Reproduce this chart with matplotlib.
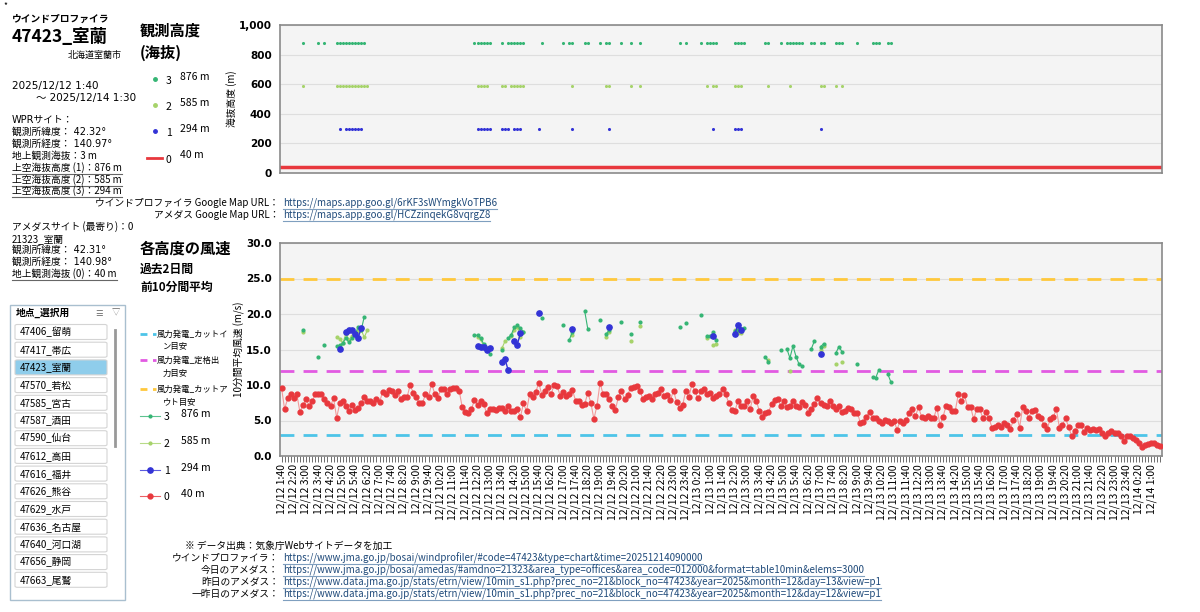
import numpy as np
import pandas as pd
import matplotlib
matplotlib.use("Agg")
import matplotlib.pyplot as plt
from matplotlib.lines import Line2D
from matplotlib.patches import Rectangle, FancyBboxPatch
from matplotlib.ticker import FuncFormatter
from matplotlib.transforms import IdentityTransform

plt.rcParams["font.family"] = ["Noto Sans CJK JP", "DejaVu Sans"]
LATIN_FIRST = ["DejaVu Sans", "Noto Sans CJK JP"]

# ---- data ----
start_time = "2025-12-12 01:40"
n_steps = 288
ground_alt = 40
alt_heights = {"3": 876, "2": 585, "1": 294}

# 40 m (AMeDAS) 10-min mean wind speed, m/s
wind_40m = [
    9.6, 6.6, 8.1, 8.7, 8.1, 8.7, 6.2, 7.2, 8.0, 7.1,
    7.7, 8.7, 8.7, 8.7, 8.0, 7.5, 7.1, 8.1, 5.4, 7.4,
    7.7, 7.0, 6.3, 7.2, 6.5, 6.7, 7.4, 8.3, 7.8, 7.8,
    7.5, 8.0, 7.6, 9.0, 8.7, 9.3, 9.1, 8.6, 9.1, 8.0,
    8.3, 8.3, 10.0, 8.9, 8.3, 7.4, 7.4, 8.7, 8.3, 10.2,
    8.8, 8.1, 9.4, 9.4, 8.8, 9.4, 9.6, 9.6, 9.2, 6.9,
    6.2, 6.0, 6.6, 7.9, 7.2, 7.7, 7.3, 6.0, 6.6, 6.6,
    6.5, 6.8, 6.8, 6.3, 7.0, 6.3, 6.3, 6.6, 5.5, 7.4,
    6.3, 8.7, 8.3, 9.0, 10.3, 8.6, 9.1, 9.7, 8.7, 10.0,
    9.8, 8.5,
    9.0, 8.4, 8.7, 9.3, 7.8, 7.8, 7.2, 7.3, 8.9, 7.5,
    5.2, 7.1, 10.3, 8.7, 8.7, 8.0, 7.1, 6.5, 8.3, 9.2,
    8.0, 8.6, 9.6, 9.7, 9.9, 9.2, 8.0, 8.3, 8.4, 8.0,
    8.8, 8.9, 9.5, 8.4, 8.6, 7.9, 9.2, 7.6, 6.7, 7.2,
    9.2, 8.3, 10.1, 9.1, 8.1, 9.1, 9.4, 8.7, 8.9, 8.1,
    8.4, 8.8, 9.4, 8.7, 7.5, 6.5, 6.3, 7.7, 7.0,
    7.0, 7.8, 6.6, 8.4, 7.8, 6.4, 5.5, 6.0, 6.2, 7.3,
    7.9, 8.0, 7.1, 7.8, 6.9, 7.1, 7.7, 7.0, 6.9, 7.6,
    7.2, 6.0, 6.6, 7.3, 8.1, 7.4, 7.2, 7.1, 7.8, 7.1,
    6.6, 7.0, 6.2, 6.3, 6.8, 6.6, 6.1, 6.1, 4.7, 4.8,
    5.5, 6.2,
    5.4, 5.4, 5.0, 4.7, 5.1, 5.0, 4.7, 4.9, 3.7, 5.0,
    4.7, 5.1, 6.0, 6.6, 5.6, 6.9, 5.5, 5.3, 5.7, 5.3,
    5.4, 6.8, 4.4, 5.5, 7.1, 6.9, 6.3, 6.4, 8.7, 7.8,
    8.6, 6.9, 6.9, 5.2, 6.6, 6.6, 5.3, 6.2, 5.3, 4.0,
    4.1, 4.3, 4.1, 4.6, 4.3, 3.8, 5.1, 5.9, 4.0, 6.9,
    6.3, 5.4, 6.4, 6.5, 5.7, 5.3, 4.3, 3.8, 5.2, 5.5,
    6.6, 4.0, 4.4, 5.3, 4.1, 2.8, 3.5, 4.4, 4.3, 3.4,
    4.0, 3.6, 3.8, 3.7, 3.8, 3.2, 2.8, 3.2, 3.5, 3.2,
    3.3, 2.8, 2.1, 2.8, 2.8, 2.5, 2.2, 1.9, 1.3, 1.6,
    1.7, 1.9, 1.9, 1.6, 1.4,
]

# wind profiler levels: observed step index and speed
h876_idx = [7, 12, 14, 18, 19, 20, 21, 22, 23, 24, 25, 26, 27, 63, 64, 65, 66, 67, 68,
            72, 74, 75, 76, 77, 78, 79, 85, 92, 94, 95, 99, 100, 104, 106, 107, 111, 114,
            117, 130, 132, 137, 139, 140, 141, 142, 148, 149, 150, 151, 158, 159, 163,
            165, 166, 167, 168, 169, 170, 173, 174, 176, 177, 181, 182, 183, 188,
            193, 194, 195, 198, 199]
h876_val = [17.8, 13.9, 15.6, 15.5, 15.6, 15.9, 16.6, 16.0, 16.6, 17.0, 18.2, 17.7, 19.6,
            17.0, 17.0, 16.6, 15.8, 15.0, 14.4, 14.9, 16.6, 17.1, 18.1, 18.4, 18.0, 17.5,
            19.4, 18.5, 16.4, 17.5, 20.4, 17.9, 19.1, 17.2, 17.7, 18.9, 17.2, 18.9, 18.2,
            18.7, 19.9, 16.9, 16.9, 17.4, 16.3, 17.6, 17.8, 17.9, 18.0, 13.9, 13.3, 14.9,
            15.1, 13.8, 15.5, 14.0, 12.9, 12.7, 15.1, 16.2, 15.4, 15.8, 14.5, 15.4, 14.7,
            12.9, 11.1, 11.0, 12.1, 11.5, 10.4]

h585_idx = [7, 18, 19, 20, 21, 22, 23, 24, 25, 26, 27, 28, 64, 65, 66, 67, 72, 73,
            75, 76, 77, 78, 79, 95, 106, 107, 114, 117, 139, 141, 142, 148, 149, 150,
            159, 166, 176, 177, 181, 183]
h585_val = [17.4, 16.7, 16.5, 15.9, 17.2, 16.4, 16.9, 17.3, 17.6, 17.8, 16.7, 17.7,
            16.8, 16.5, 15.4, 15.2, 15.2, 16.2, 16.9, 17.7, 18.2, 16.7, 17.4, 17.0,
            16.8, 17.5, 16.2, 18.3, 16.6, 15.6, 15.8, 17.8, 17.3, 17.3, 13.5, 12.0,
            15.0, 15.5, 12.9, 13.3]

h294_idx = [19, 21, 22, 23, 24, 25, 26, 64, 65, 66, 67, 68, 72, 73, 74, 76, 77, 78,
            84, 95, 107, 141, 148, 149, 150, 176]
h294_val = [15.1, 17.5, 17.8, 17.7, 17.2, 16.6, 18.0, 15.5, 15.4, 15.4, 14.9, 15.2,
            13.3, 13.6, 12.1, 16.2, 15.7, 17.3, 20.2, 17.9, 18.2, 16.9, 17.2, 18.4,
            17.8, 14.3]

cut_in, rated, cut_out = 3.0, 12.0, 25.0

stations = ["47406_留萌", "47417_帯広", "47423_室蘭", "47570_若松", "47585_宮古",
            "47587_酒田", "47590_仙台", "47612_高田", "47616_福井", "47626_熊谷",
            "47629_水戸", "47636_名古屋", "47640_河口湖", "47656_静岡", "47663_尾鷲"]
selected_station = "47423_室蘭"

# ---- helpers ----
W, H = 1200, 612
fig = plt.figure(figsize=(12, 6.12), dpi=100)
underlined = []


def fx(x):
    return x / W


def fy(y):
    return 1 - y / H


def txt(x, y, s, size=7, weight="normal", ha="left", color="black", ul=None, **kw):
    t = fig.text(fx(x), fy(y), s, fontsize=size, fontweight=weight, ha=ha,
                 va="center", color=color, **kw)
    if ul:
        underlined.append((t, ul))
    return t


def series(idx, val):
    s = np.full(n_steps, np.nan)
    s[idx] = val
    return s


times = pd.date_range(start_time, periods=n_steps, freq="10min")
tick_labels = [f"{t.month}/{t.day} {t.hour}:{t.minute:02d}" for t in times]
x = np.arange(n_steps)
s876 = series(h876_idx, h876_val)
s585 = series(h585_idx, h585_val)
s294 = series(h294_idx, h294_val)

c876, c585, c294, c40 = "#35b574", "#a6d36a", "#3333d6", "#e8383d"
bg = "#f4f4f4"

# ---- top chart: observed heights ----
ax1 = fig.add_axes([fx(280), fy(173), 882 / W, 148 / H])
ax1.set_facecolor(bg)
for s, h, c in [(s876, alt_heights["3"], c876), (s585, alt_heights["2"], c585),
                (s294, alt_heights["1"], c294)]:
    ok = ~np.isnan(s)
    ax1.scatter(x[ok], np.full(ok.sum(), h), s=5, color=c, zorder=3, linewidths=0)
ax1.axhline(ground_alt, color=c40, lw=2.5, zorder=2)
ax1.set_xlim(-0.5, n_steps - 0.5)
ax1.set_ylim(0, 1000)
ax1.set_yticks(range(0, 1001, 200))
ax1.yaxis.set_major_formatter(FuncFormatter(lambda v, p: f"{int(v):,}"))
ax1.set_xticks([])
ax1.grid(axis="y", color="#dedede", lw=0.8)
ax1.set_axisbelow(True)
ax1.set_ylabel("海抜高度 (m)", fontsize=7, labelpad=1)

# ---- bottom chart: wind speed ----
ax2 = fig.add_axes([fx(280), fy(456), 882 / W, 213 / H])
ax2.set_facecolor(bg)
dash = (0, (5, 3.3))
ax2.axhline(cut_in, color="#4dc4e8", lw=2, ls=dash, zorder=2)
ax2.axhline(rated, color="#e25ae2", lw=2, ls=dash, zorder=2)
ax2.axhline(cut_out, color="#ffc83c", lw=2, ls=dash, zorder=2)
ax2.plot(x, wind_40m, color="#f29a9a", lw=0.8, marker="o", ms=3.5,
         mfc=c40, mec=c40, zorder=3)
ax2.plot(x, s585, color=c585, lw=0.8, marker="o", ms=2, mfc=c585, mec=c585, zorder=4)
ax2.plot(x, s876, color=c876, lw=0.8, marker="o", ms=2, mfc=c876, mec=c876, zorder=5)
ax2.plot(x, s294, color=c294, lw=1, marker="o", ms=3.8, mfc=c294, mec=c294, zorder=6)
ax2.set_xlim(-0.5, n_steps - 0.5)
ax2.set_ylim(0, 30)
ax2.set_yticks(range(0, 31, 5))
ax2.yaxis.set_major_formatter(FuncFormatter(lambda v, p: f"{v:.1f}"))
ax2.set_xticks(x[::4])
ax2.set_xticklabels(tick_labels[::4], rotation=90, fontsize=7.5)
ax2.set_xticks(x, minor=True)
ax2.tick_params(axis="x", which="both", length=4, width=0.6, color="#555555", pad=2)
ax2.grid(axis="y", color="#dedede", lw=0.8)
ax2.set_axisbelow(True)
ax2.set_ylabel("10分間平均風速 (m/s)", fontsize=7, labelpad=1)

for ax in (ax1, ax2):
    for sp in ax.spines.values():
        sp.set_color("#8a8a8a")
        sp.set_linewidth(1.2)
    ax.tick_params(axis="y", length=0, labelsize=7.5, pad=6)
    for lbl in ax.get_yticklabels():
        lbl.set_fontweight("bold")
        lbl.set_family("DejaVu Sans")

# ---- left info panel ----
txt(3, 6, "*", size=6)
txt(12, 19, "ウインドプロファイラ", size=7, weight="bold")
txt(12, 37, "47423_室蘭", size=12.5, weight="bold")
txt(122, 55, "北海道室蘭市", size=6.5, ha="right")
txt(12, 86, "2025/12/12 1:40", size=7.5, family=LATIN_FIRST)
txt(36, 98, "～ 2025/12/14 1:30", size=7.5, family=LATIN_FIRST)
txt(12, 120, "WPRサイト：", size=7, family=LATIN_FIRST)
txt(12, 132, "観測所緯度： 42.32°", size=7, family=LATIN_FIRST)
txt(12, 144, "観測所経度： 140.97°", size=7, family=LATIN_FIRST)
txt(12, 156, "地上観測海抜：3 m", size=7)
txt(12, 168, "上空海抜高度 (1)：876 m", size=7, ul="#666666")
txt(12, 180, "上空海抜高度 (2)：585 m", size=7, ul="#666666")
txt(12, 191, "上空海抜高度 (3)：294 m", size=7, ul="#666666")
txt(12, 227, "アメダスサイト (最寄り)：0", size=7)
txt(12, 239, "21323_室蘭", size=7)
txt(12, 250, "観測所緯度： 42.31°", size=7, family=LATIN_FIRST)
txt(12, 262, "観測所経度： 140.98°", size=7, family=LATIN_FIRST)
txt(12, 274, "地上観測海抜 (0)：40 m", size=7, ul="#666666")

# station selector
fig.patches.append(Rectangle((fx(10), fy(600)), 115 / W, 295 / H, transform=fig.transFigure,
                             facecolor="white", edgecolor="#a9bfcf", lw=1))
txt(16, 313, "地点_選択用", size=7, weight="bold")
txt(95, 313, "☰", size=6, color="#666666")
txt(112, 313, "▽", size=6, color="#666666")
for i, name in enumerate(stations):
    cy = 332 + 17.7 * i
    sel = name == selected_station
    fig.patches.append(FancyBboxPatch((fx(15), fy(cy + 7.5)), 92 / W, 15 / H,
                                      boxstyle="round,pad=0,rounding_size=0.002",
                                      transform=fig.transFigure,
                                      facecolor="#8fcdeb" if sel else "white",
                                      edgecolor="#d4d4d4", lw=0.8))
    txt(20, cy, name, size=7)
fig.add_artist(Line2D([fx(115), fx(115)], [fy(330), fy(446)], transform=fig.transFigure,
                      color="#999999", lw=2))

# ---- middle column: titles and legends ----
txt(140, 31, "観測高度", size=11, weight="bold")
txt(140, 53, "(海抜)", size=11, weight="bold")
for (lab, h, c), yy in zip([("3", alt_heights["3"], c876), ("2", alt_heights["2"], c585),
                            ("1", alt_heights["1"], c294)], [79, 105, 131]):
    fig.add_artist(Line2D([fx(155)], [fy(yy)], transform=fig.transFigure, marker="o",
                          ms=2.5, color=c, lw=0))
    txt(166, yy + 2, lab, size=7.5)
    txt(180, yy - 2, f"{h} m", size=7.5)
fig.add_artist(Line2D([fx(147), fx(162)], [fy(158), fy(158)], transform=fig.transFigure,
                      color=c40, lw=2))
txt(166, 160, "0", size=7.5)
txt(180, 155, f"{ground_alt} m", size=7.5)

txt(279, 203, "ウインドプロファイラ Google Map URL：", size=7, ha="right")
txt(279, 215, "アメダス Google Map URL：", size=7, ha="right")
txt(283, 203, "https://maps.app.goo.gl/6rKF3sWYmgkVoTPB6", size=7, color="#1f4a7a", ul="#7f9fbf")
txt(283, 215, "https://maps.app.goo.gl/HCZzinqekG8vqrgZ8", size=7, color="#1f4a7a", ul="#7f9fbf")

txt(140, 249, "各高度の風速", size=11, weight="bold")
txt(140, 269, "過去2日間", size=8.5, weight="bold")
txt(140, 287, "前10分間平均", size=8.5, weight="bold")

for (l1, l2, c), yy in zip([("風力発電_カットイ", "ン目安", "#4dc4e8"),
                            ("風力発電_定格出", "力目安", "#e25ae2"),
                            ("風力発電_カットア", "ウト目安", "#ffc83c")], [334, 360, 389]):
    fig.add_artist(Line2D([fx(140), fx(156)], [fy(yy), fy(yy)], transform=fig.transFigure,
                          color=c, lw=2, ls=(0, (2.5, 2))))
    txt(157, yy, l1, size=6)
    txt(163, yy + 13, l2, size=6)
for (lab, h, c, ms), yy in zip([("3", alt_heights["3"], c876, 2),
                                ("2", alt_heights["2"], c585, 2),
                                ("1", alt_heights["1"], c294, 3.8),
                                ("0", ground_alt, c40, 3.5)], [416, 443, 470, 496]):
    fig.add_artist(Line2D([fx(140), fx(160)], [fy(yy), fy(yy)], transform=fig.transFigure,
                          color=c, lw=0.8, alpha=0.8))
    fig.add_artist(Line2D([fx(150)], [fy(yy)], transform=fig.transFigure, marker="o",
                          ms=ms, color=c, lw=0))
    txt(164, yy + 1, lab, size=7.5)
    txt(181, yy - 2, f"{h} m", size=7.5)

# ---- sources ----
txt(185, 546, "※ データ出典：気象庁Webサイトデータを加工", size=7)
sources = [
    ("ウインドプロファイラ：",
     "https://www.jma.go.jp/bosai/windprofiler/#code=47423&type=chart&time=20251214090000"),
    ("今日のアメダス：",
     "https://www.jma.go.jp/bosai/amedas/#amdno=21323&area_type=offices&area_code=012000&format=table10min&elems=3000"),
    ("昨日のアメダス：",
     "https://www.data.jma.go.jp/stats/etrn/view/10min_s1.php?prec_no=21&block_no=47423&year=2025&month=12&day=13&view=p1"),
    ("一昨日のアメダス：",
     "https://www.data.jma.go.jp/stats/etrn/view/10min_s1.php?prec_no=21&block_no=47423&year=2025&month=12&day=12&view=p1"),
]
for (lab, url), yy in zip(sources, [558, 570, 582, 594]):
    txt(279, yy, lab, size=7, ha="right")
    txt(283, yy, url, size=7, color="#1f4a7a", ul="#7f9fbf")

# underlines
renderer = fig.canvas.get_renderer()
for t, col in underlined:
    bb = t.get_window_extent(renderer)
    fig.add_artist(Line2D([bb.x0, bb.x1], [bb.y0 - 0.5, bb.y0 - 0.5],
                          transform=IdentityTransform(), color=col, lw=0.8))

fig.savefig("out.png", dpi=100, facecolor="white")
